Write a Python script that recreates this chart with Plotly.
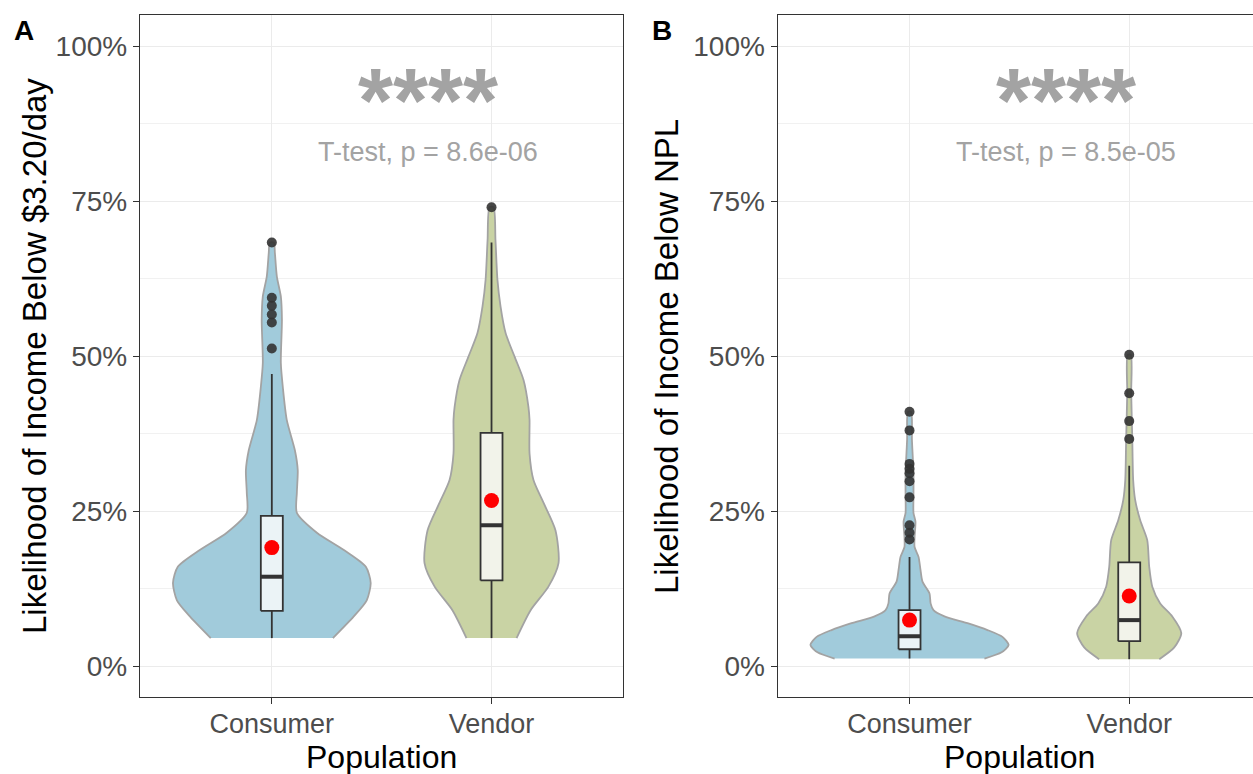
import plotly.graph_objects as go

# ---------------- data ----------------
categories = ["Consumer", "Vendor"]
cat_pos = [1, 2]

# violin density profiles (value, half-width in category units)
a_cons_y = [0.045, 0.080, 0.106, 0.134, 0.160, 0.187, 0.215, 0.247, 0.280, 0.316, 0.348, 0.397, 0.450, 0.489, 0.558, 0.596, 0.628, 0.666, 0.683]
a_cons_w = [0.278, 0.373, 0.432, 0.450, 0.428, 0.328, 0.205, 0.114, 0.114, 0.118, 0.105, 0.068, 0.050, 0.041, 0.046, 0.041, 0.023, 0.014, 0.009]
a_vend_y = [0.045, 0.090, 0.128, 0.166, 0.219, 0.263, 0.300, 0.343, 0.397, 0.418, 0.461, 0.499, 0.537, 0.580, 0.623, 0.687, 0.740]
a_vend_w = [0.114, 0.178, 0.259, 0.305, 0.291, 0.237, 0.191, 0.173, 0.173, 0.168, 0.146, 0.105, 0.064, 0.041, 0.027, 0.018, 0.009]
b_cons_y = [0.012, 0.022, 0.034, 0.047, 0.058, 0.069, 0.080, 0.090, 0.101, 0.117, 0.136, 0.155, 0.176, 0.192, 0.208, 0.233, 0.247, 0.273, 0.311, 0.365, 0.410]
b_cons_w = [0.341, 0.419, 0.451, 0.423, 0.355, 0.264, 0.159, 0.109, 0.096, 0.091, 0.059, 0.050, 0.041, 0.023, 0.023, 0.027, 0.018, 0.018, 0.018, 0.011, 0.007]
b_vend_y = [0.011, 0.030, 0.053, 0.080, 0.101, 0.128, 0.160, 0.203, 0.235, 0.268, 0.300, 0.365, 0.440, 0.502]
b_vend_w = [0.137, 0.205, 0.237, 0.196, 0.141, 0.105, 0.091, 0.082, 0.050, 0.027, 0.018, 0.014, 0.009, 0.007]

# box statistics: [lowerfence, q1, median, q3, upperfence]
a_cons_box = [0.045, 0.089, 0.144, 0.242, 0.471]
a_vend_box = [0.045, 0.138, 0.227, 0.376, 0.683]
b_cons_box = [0.012, 0.027, 0.048, 0.090, 0.176]
b_vend_box = [0.011, 0.040, 0.074, 0.167, 0.323]

a_means = [0.191, 0.267]
b_means = [0.074, 0.113]

a_cons_out = [0.512, 0.554, 0.567, 0.581, 0.594, 0.683]
a_vend_out = [0.740]
b_cons_out = [0.204, 0.215, 0.227, 0.272, 0.298, 0.311, 0.318, 0.326, 0.380, 0.410]
b_vend_out = [0.366, 0.395, 0.440, 0.502]

y_ticks = [0, 0.25, 0.5, 0.75, 1.0]
y_ticktext = ["0%", "25%", "50%", "75%", "100%"]
y_minor = [0.125, 0.375, 0.625, 0.875]

a_ylabel = "Likelihood of Income Below $3.20/day"
b_ylabel = "Likelihood of Income Below NPL"
a_ptext = "T-test, p = 8.6e-06"
b_ptext = "T-test, p = 8.5e-05"
signif = "****"

# ---------------- styling ----------------
FONT = "Liberation Sans, Arial, sans-serif"
VIOLIN_FILL = ["#A1CBDB", "#C9D3A4"]
BOX_FILL = ["#EBF3F6", "#F2F3EA"]
DARK = "#333333"
W, H = 1253, 774
ML, MR, MT, MB = 0, 0, 15, 77
BOX_W = 0.1

fig = go.Figure()


def add_panel(xa, ya, vy, vw, boxes, means, outs):
    # violins (density outline mirrored around the category position)
    for i in range(2):
        p = cat_pos[i]
        ys = vy[i]
        ws = vw[i]
        xs = [p + w for w in ws] + [p - w for w in reversed(ws)]
        yy = list(ys) + list(reversed(ys))
        fig.add_trace(go.Scatter(
            x=xs, y=yy, mode="lines", fill="toself", fillcolor=VIOLIN_FILL[i],
            line=dict(color="#A3A3A3", width=1.8, shape="spline", smoothing=0.7),
            xaxis=xa, yaxis=ya, hoverinfo="skip"))
    # box plots (drawn as scatter so they sit above the violins)
    for i in range(2):
        p = cat_pos[i]
        lf, q1, med, q3, uf = boxes[i]
        hw = BOX_W / 2
        fig.add_trace(go.Scatter(
            x=[p, p, None, p, p], y=[lf, q1, None, q3, uf], mode="lines",
            line=dict(color=DARK, width=1.8), xaxis=xa, yaxis=ya, hoverinfo="skip"))
        fig.add_trace(go.Scatter(
            x=[p - hw, p + hw, p + hw, p - hw, p - hw], y=[q1, q1, q3, q3, q1],
            mode="lines", fill="toself", fillcolor=BOX_FILL[i],
            line=dict(color=DARK, width=1.8), xaxis=xa, yaxis=ya, hoverinfo="skip"))
        fig.add_trace(go.Scatter(
            x=[p - hw, p + hw], y=[med, med], mode="lines",
            line=dict(color=DARK, width=4), xaxis=xa, yaxis=ya, hoverinfo="skip"))
        fig.add_trace(go.Scatter(
            x=[p] * len(outs[i]), y=outs[i], mode="markers",
            marker=dict(color="rgba(51,51,51,0.9)", size=10, line=dict(width=0)),
            xaxis=xa, yaxis=ya, hoverinfo="skip"))
    fig.add_trace(go.Scatter(
        x=cat_pos, y=means, mode="markers",
        marker=dict(color="#FF0000", size=15, line=dict(width=0)),
        xaxis=xa, yaxis=ya, hoverinfo="skip"))


add_panel("x", "y", [a_cons_y, a_vend_y], [a_cons_w, a_vend_w],
          [a_cons_box, a_vend_box], a_means, [a_cons_out, a_vend_out])
add_panel("x2", "y2", [b_cons_y, b_vend_y], [b_cons_w, b_vend_w],
          [b_cons_box, b_vend_box], b_means, [b_cons_out, b_vend_out])

plot_h = H - MT - MB


def px_x(px):
    return px / W


def px_y(py):
    return (H - MB - py) / plot_h


x_common = dict(
    tickmode="array", tickvals=cat_pos, ticktext=categories,
    showgrid=True, gridcolor="#EBEBEB", gridwidth=1.4,
    showline=True, linecolor=DARK, linewidth=1.4, mirror=True,
    ticks="outside", ticklen=6, tickwidth=1.3, tickcolor=DARK,
    ticklabelstandoff=-4,
    tickfont=dict(family=FONT, size=27, color="#4D4D4D"),
    zeroline=False, fixedrange=True)
y_common = dict(
    range=[-0.05, 1.05], tickmode="array", tickvals=y_ticks, ticktext=y_ticktext,
    showgrid=True, gridcolor="#EBEBEB", gridwidth=1.4,
    minor=dict(tickmode="array", tickvals=y_minor, showgrid=True,
               gridcolor="#F1F1F1", gridwidth=1.0, ticks=""),
    showline=True, linecolor=DARK, linewidth=1.4,
    ticks="outside", ticklen=6, tickwidth=1.3, tickcolor=DARK,
    tickfont=dict(family=FONT, size=28, color="#4D4D4D"),
    zeroline=False, domain=[0, 1])

x_lo = 0.4
px_per_unit = 219.7
a_left, a_right = 140.0, 623.3
b_left = 777.7

fig.update_layout(
    width=W, height=H,
    margin=dict(l=ML, r=MR, t=MT, b=MB),
    plot_bgcolor="white", paper_bgcolor="white",
    showlegend=False,
    xaxis=dict(x_common, domain=[px_x(a_left), px_x(a_right)],
               range=[x_lo, x_lo + (a_right - a_left) / px_per_unit], anchor="y"),
    yaxis=dict(y_common, anchor="x", mirror=True),
    xaxis2=dict(x_common, domain=[px_x(b_left), 1.0],
                range=[x_lo, x_lo + (W - b_left) / px_per_unit], anchor="y2"),
    yaxis2=dict(y_common, anchor="x2", mirror=False),
)

ann = []
# panel tags
ann.append(dict(text="<b>A</b>", x=px_x(24), y=px_y(31), xref="paper", yref="paper",
                showarrow=False, xanchor="center", yanchor="middle",
                font=dict(family=FONT, size=28, color="black")))
ann.append(dict(text="<b>B</b>", x=px_x(662), y=px_y(31), xref="paper", yref="paper",
                showarrow=False, xanchor="center", yanchor="middle",
                font=dict(family=FONT, size=28, color="black")))
# axis titles
for txt, xc in [(a_ylabel, 34), (b_ylabel, 666)]:
    ann.append(dict(text=txt, x=px_x(xc), y=0.5, xref="paper", yref="paper",
                    textangle=-90, showarrow=False, xanchor="center", yanchor="middle",
                    font=dict(family=FONT, size=33, color="black")))
for xc in [(a_left + a_right) / 2, (b_left + b_left + (a_right - a_left)) / 2]:
    ann.append(dict(text="Population", x=px_x(xc), y=px_y(757), xref="paper", yref="paper",
                    showarrow=False, xanchor="center", yanchor="middle",
                    font=dict(family=FONT, size=32, color="black")))
# significance labels
for xr, yr, pt in [("x", "y", a_ptext), ("x2", "y2", b_ptext)]:
    ann.append(dict(text="<b>" + signif + "</b>", x=1.71, y=0.912, xref=xr, yref=yr, showarrow=False,
                    xanchor="center", yanchor="middle",
                    font=dict(family=FONT, size=90, color="#A3A3A3")))
    ann.append(dict(text=pt, x=1.71, y=0.829, xref=xr, yref=yr, showarrow=False,
                    xanchor="center", yanchor="middle",
                    font=dict(family=FONT, size=27, color="#A3A3A3")))
fig.update_layout(annotations=ann)

fig.write_html("out.html")
